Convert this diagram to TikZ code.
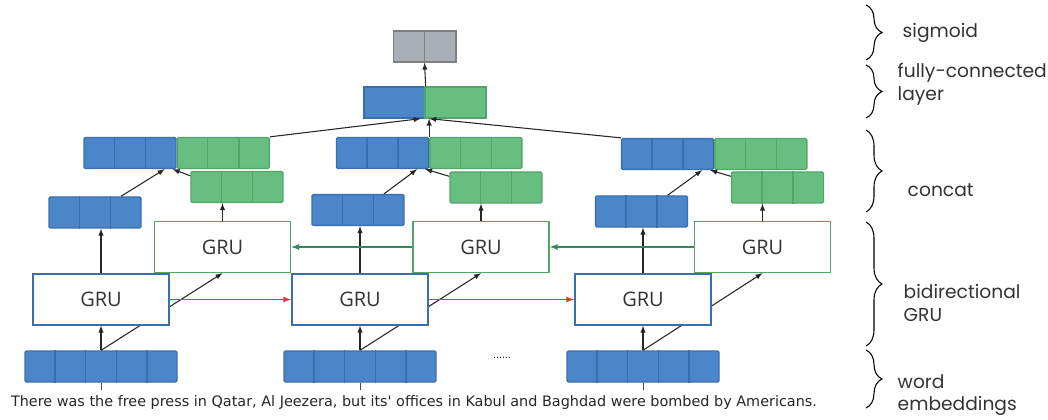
\documentclass[tikz,border=0pt]{standalone}
\usepackage{fontspec}
\setmainfont{DejaVu Sans}
\newfontfamily\grufont{Open Sans}
\newfontfamily\labfont{Poppins}
\usetikzlibrary{positioning, arrows, calc, decorations.pathreplacing}

\definecolor{bluefill}{HTML}{4A86C8}
\definecolor{blueline}{HTML}{3A6FAE}
\definecolor{greenfill}{HTML}{66BF80}
\definecolor{greenline}{HTML}{55A56B}
\definecolor{grayfill}{HTML}{A9AEB7}
\definecolor{grayline}{HTML}{7F7F7F}
\definecolor{fwdred}{HTML}{D9412D}
\definecolor{bwdgreen}{HTML}{2E8B57}
\definecolor{textgray}{HTML}{333333}

\begin{document}
\begin{tikzpicture}[x=0.75pt, y=-0.75pt]
    \tikzstyle{vec} = [rectangle, inner sep=0pt, line width=1pt, minimum height=23.25pt, rounded corners=1pt]
    \tikzstyle{bvec} = [vec, draw=blueline, fill=bluefill]
    \tikzstyle{gvec} = [vec, draw=greenline, fill=greenfill]
    \tikzstyle{fgru} = [rectangle, draw=blueline, fill=white, line width=1.2pt, minimum width=102pt, minimum height=38pt, font=\grufont\fontsize{15}{18}\selectfont, text=textgray]
    \tikzstyle{bgru} = [fgru, draw=greenline]
    \tikzstyle{link} = [-latex, line width=0.8pt, black!85]
    \tikzstyle{lab} = [anchor=west, align=left, text=textgray, font=\labfont\fontsize{14}{17}\selectfont]
    \tikzstyle{layerbrace} = [decorate, decoration={brace, amplitude=12pt}, line width=0.8pt]

    \useasboundingbox (0,0) rectangle (1048,420);

    % top
    \node (sig) [vec, draw=grayline, fill=grayfill, minimum width=47pt, rounded corners=0pt] at (424.5,46.5) {};
    \node (fcb) [bvec, minimum width=45.75pt, rounded corners=0pt] at (394.5,102.5) {};
    \node (fcg) [gvec, minimum width=45.75pt, rounded corners=0pt] at (455.5,102.5) {};

    % concat
    \node (cb1) [bvec, minimum width=69pt] at (130,153) {};
    \node (cg1) [gvec, minimum width=69pt, right=0pt of cb1] {};
    \node (cb2) [bvec, minimum width=69pt] at (382.5,153) {};
    \node (cg2) [gvec, minimum width=69pt, right=0pt of cb2] {};
    \node (cb3) [bvec, minimum width=69pt] at (667.5,154) {};
    \node (cg3) [gvec, minimum width=69pt, right=0pt of cb3] {};

    % outputs
    \node (bo1) [gvec, minimum width=69pt] at (237,187) {};
    \node (bo2) [gvec, minimum width=69pt] at (496,187.5) {};
    \node (bo3) [gvec, minimum width=69pt] at (777.5,187.5) {};
    \node (fo1) [bvec, minimum width=69pt] at (95,212.5) {};
    \node (fo2) [bvec, minimum width=69pt] at (358,210) {};
    \node (fo3) [bvec, minimum width=69pt] at (641.5,211.5) {};

    % word embeddings
    \node (e1) [bvec, minimum width=114pt] at (101,366.5) {};
    \node (e2) [bvec, minimum width=114pt] at (360,366.5) {};
    \node (e3) [bvec, minimum width=114pt] at (643,366.5) {};

    \foreach \v in {cb1,cb2,cb3,fo1,fo2,fo3}
        \foreach \k in {1,2}
            \draw [blueline, line width=1pt] ($(\v.north west)!\k/3!(\v.north east)$) -- ($(\v.south west)!\k/3!(\v.south east)$);
    \foreach \v in {cg1,cg2,cg3,bo1,bo2,bo3}
        \foreach \k in {1,2}
            \draw [greenline, line width=1pt] ($(\v.north west)!\k/3!(\v.north east)$) -- ($(\v.south west)!\k/3!(\v.south east)$);
    \foreach \v in {e1,e2,e3}
        \foreach \k in {1,...,4}
            \draw [blueline, line width=1pt] ($(\v.north west)!\k/5!(\v.north east)$) -- ($(\v.south west)!\k/5!(\v.south east)$);
    \draw [grayline, line width=1pt] (sig.north) -- (sig.south);

    % GRUs
    \node (bg1) [bgru] at (222.5,247) {GRU};
    \node (bg2) [bgru] at (481,247) {GRU};
    \node (bg3) [bgru] at (762.5,247) {GRU};

    \draw [link] (e1.north) -- (bg1.south);
    \draw [link] (e2.north) -- (bg2.south);
    \draw [link] (e3.north) -- (bg3.south);

    \node (fg1) [fgru] at (101,299.5) {GRU};
    \node (fg2) [fgru] at (360,299.5) {GRU};
    \node (fg3) [fgru] at (643,299.5) {GRU};

    \foreach \i in {1,2,3} {
        \draw [link] (e\i.north) -- (fg\i.south);
        \draw [link] (fg\i.north) -- (fg\i.north |- fo\i.south);
        \draw [link] (bg\i.north) -- (bg\i.north |- bo\i.south);
        \draw [link] ($(fo\i.north)+(26,0)$) -- ($(cb\i.south east)+(-12,0)$);
        \draw [link] ($(bo\i.north west)+(0,5)$) -- ($(cb\i.south east)+(-4,0)$);
        \coordinate (w\i) at ($(e\i.south)+(0,7)$);
        \draw [line width=0.7pt, black!70] (e\i.south) -- (w\i);
    }

    % recurrent links
    \draw [link, fwdred, line width=1pt] (fg1.east) -- (fg2.west);
    \draw [link, fwdred, line width=1pt] (fg2.east) -- (fg3.west);
    \draw [link, bwdgreen, line width=1pt] (bg3.west) -- (bg2.east);
    \draw [link, bwdgreen, line width=1pt] (bg2.west) -- (bg1.east);

    % concat to fully-connected
    \draw [link] (cg1.north east) -- ($(fcb.south east)+(-5,0)$);
    \draw [link] (cb2.north east) -- (cb2.north east |- fcb.south);
    \draw [link] (cb3.north west) -- ($(fcg.south west)+(5,0)$);
    \draw [link] (fcb.north east) -- (sig.south);

    \node (dots) [font=\fontsize{7}{7}\selectfont] at (502,358) {......};
    \node (sent) [font=\fontsize{10.8}{12}\selectfont, text=black!85] at (414,403)
        {There was the free press in Qatar, Al Jeezera, but its\textquotesingle\ offices in Kabul and Baghdad were bombed by Americans.};

    % layer braces
    \draw [layerbrace] (866,5) -- (866,60);
    \draw [layerbrace] (866,65) -- (866,118);
    \draw [layerbrace] (866,130) -- (866,212);
    \draw [layerbrace] (866,222) -- (866,346);
    \draw [layerbrace] (866,350) -- (866,408);

    \node (l1) [lab] at (898,33) {sigmoid};
    \node (l2) [lab] at (893,84) {fully-connected\\layer};
    \node (l3) [lab] at (903,190) {concat};
    \node (l4) [lab] at (899,303) {bidirectional\\GRU};
    \node (l5) [lab] at (893,395) {word\\embeddings};
\end{tikzpicture}
\end{document}
